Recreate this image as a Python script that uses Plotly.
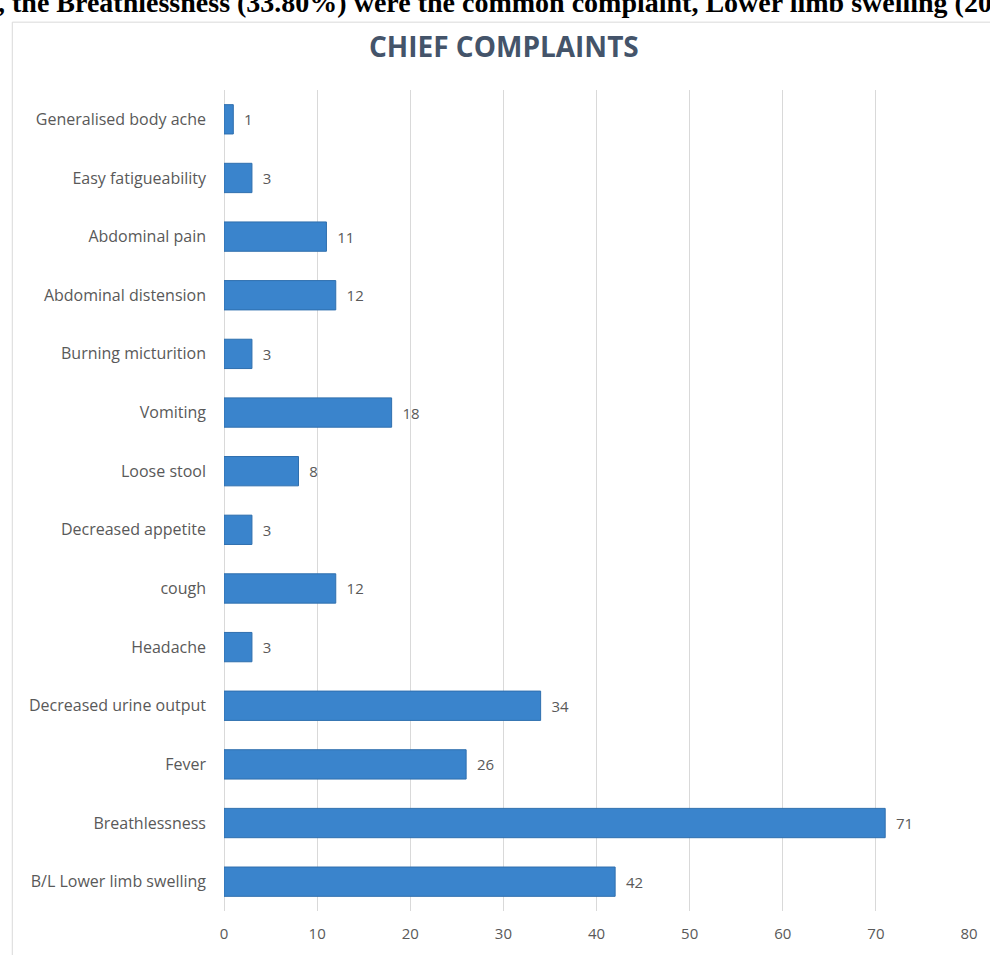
import plotly.graph_objects as go

categories = [
    "B/L Lower limb swelling", "Breathlessness", "Fever", "Decreased urine output",
    "Headache", "cough", "Decreased appetite", "Loose stool", "Vomiting",
    "Burning micturition", "Abdominal distension", "Abdominal pain",
    "Easy fatigueability", "Generalised body ache",
]
values = [42, 71, 26, 34, 3, 12, 3, 8, 18, 3, 12, 11, 3, 1]
x_ticks = [0, 10, 20, 30, 40, 50, 60, 70, 80]

title_text = "CHIEF COMPLAINTS"
top_text = ", the Breathlessness (33.80%) were the common complaint, Lower limb swelling (20.00%)"

FONT = "Open Sans"
GRAY = "#595959"

# plot area in pixels
L, R, T, B = 224, 20, 90, 42
W, H = 990, 955
pw, ph = W - L - R, H - T - B

def px_x(p):
    return (p - L) / pw

def px_y(p):
    return (H - B - p) / ph

fig = go.Figure()
fig.add_trace(go.Bar(
    y=categories, x=values, orientation="h",
    marker=dict(color="#3a84cc", line=dict(color="#2f6fae", width=1)),
    text=values, texttemplate="  %{x}", textposition="outside",
    textfont=dict(family=FONT, size=15, color=GRAY),
    cliponaxis=False,
))

fig.update_layout(
    width=W, height=H,
    margin=dict(l=L, r=R, t=T, b=B),
    paper_bgcolor="white", plot_bgcolor="white",
    bargap=0.5,
    showlegend=False,
    xaxis=dict(
        range=[0, 80], tickvals=x_ticks, showgrid=True, gridcolor="#d9d9d9",
        gridwidth=1, zeroline=True, zerolinecolor="#d9d9d9", zerolinewidth=1,
        showline=False, ticks="", tickfont=dict(family=FONT, size=15, color=GRAY),
        ticklabelstandoff=12, fixedrange=True,
    ),
    yaxis=dict(
        categoryorder="array", categoryarray=categories,
        showgrid=False, zeroline=False, showline=False, ticks="",
        tickfont=dict(family=FONT, size=16, color=GRAY),
        ticklabelstandoff=17, fixedrange=True,
    ),
    font=dict(family=FONT),
    shapes=[
        dict(type="line", xref="paper", yref="paper",
             x0=px_x(12), x1=px_x(1000), y0=px_y(22), y1=px_y(22),
             line=dict(color="#d9d9d9", width=1)),
        dict(type="line", xref="paper", yref="paper",
             x0=px_x(12), x1=px_x(12), y0=px_y(22), y1=px_y(960),
             line=dict(color="#d9d9d9", width=1)),
    ],
    annotations=[
        dict(text="<b>" + title_text + "</b>", xref="paper", yref="paper",
             x=px_x(504), y=px_y(46), xanchor="center", yanchor="middle",
             showarrow=False, font=dict(family=FONT, size=28, color="#44546a")),
        dict(text="<b>" + top_text + "</b>", xref="paper", yref="paper",
             x=px_x(-4), y=px_y(2), xanchor="left", yanchor="middle",
             showarrow=False, font=dict(family="Liberation Serif", size=28, color="black")),
    ],
)

fig.write_html("out.html")
